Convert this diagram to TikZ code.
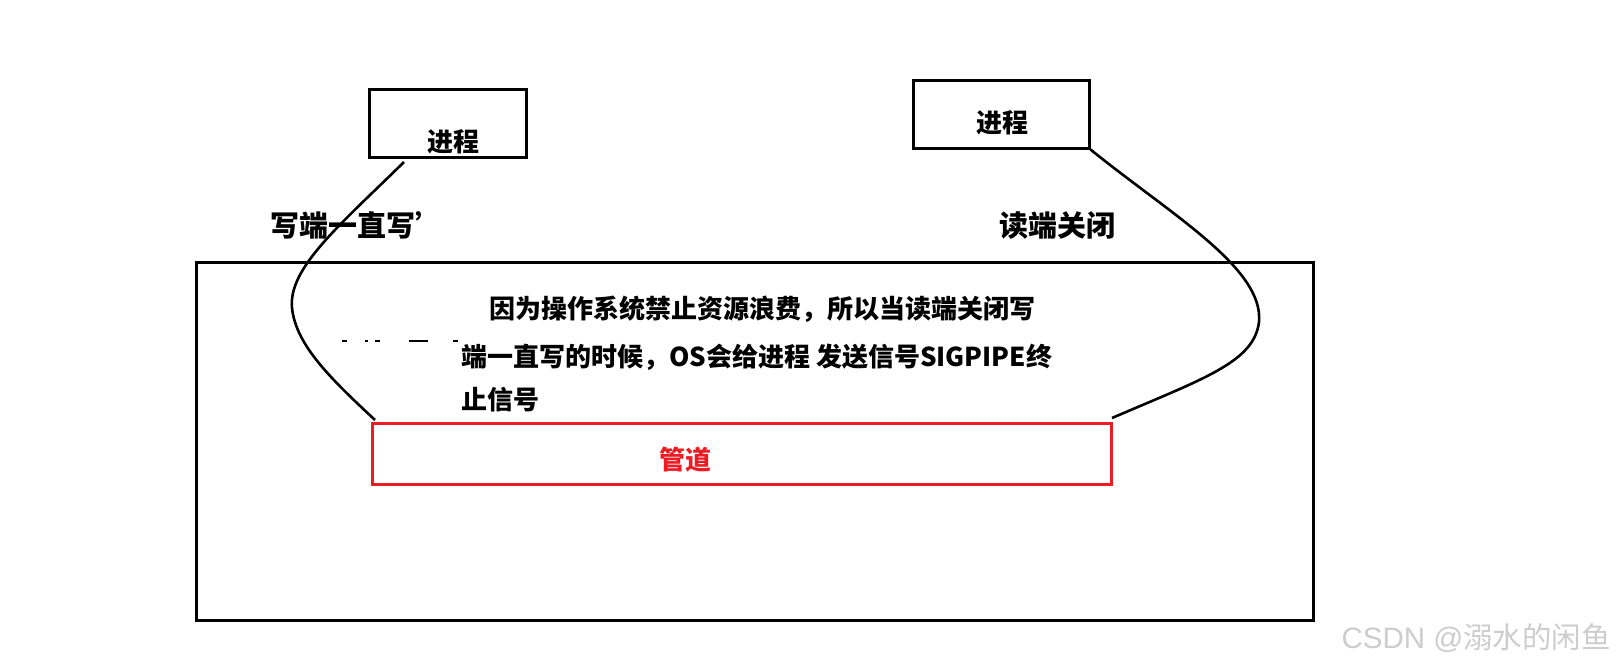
\documentclass[tikz,border=0pt]{standalone}
\usepackage{fontspec}
\newfontfamily\cjk{Noto Sans CJK SC}
\newfontfamily\arialish{Liberation Sans}
\tikzset{
  procbox/.style={draw=black, line width=3pt, minimum width=157pt, minimum height=68pt, inner sep=0pt},
  lbl/.style={font=\cjk\bfseries\fontsize{26}{30}\selectfont, inner sep=0pt},
  biglbl/.style={font=\cjk\bfseries\fontsize{29}{32}\selectfont, inner sep=0pt},
  curve/.style={draw=black, line width=2.6pt},
}
\begin{document}
\begin{tikzpicture}[x=1pt,y=-1pt]
\useasboundingbox (0,0) rectangle (1617,667);
\fill[white] (0,0) rectangle (1617,667);
% big rectangle
\node[draw=black, line width=3pt, minimum width=1117pt, minimum height=358pt, inner sep=0pt] (os) at (754.5,441) {};
% process boxes
\node[procbox] (p1) at (447.5,123) {};
\node[lbl, anchor=center] (p1t) at (453,142) {进程};
\node[procbox, minimum width=176pt] (p2) at (1001,114) {};
\node[lbl] (p2t) at (1002,123) {进程};
% pipe
\node[draw={rgb,255:red,237;green,28;blue,36}, line width=3pt, minimum width=739pt, minimum height=61pt, inner sep=0pt] (pipe) at (741.5,453.5) {};
\node[lbl, text={rgb,255:red,237;green,28;blue,36}] (pipet) at (685,460) {管道};
% labels
\node[biglbl, anchor=west] (w) at (270,225) {写端一直写’};
\node[biglbl, anchor=west] (r) at (999,226) {读端关闭};
% paragraph
\node[lbl, anchor=west] (t1) at (489,309) {因为操作系统禁止资源浪费，所以当读端关闭写};
\node[lbl, anchor=west] (t2) at (461,357) {端一直写的时候，OS会给进程 发送信号SIGPIPE终};
\node[lbl, anchor=west] (t3) at (461,400) {止信号};
% curves
\coordinate (ls) at (404,162);
\coordinate (le) at (375,420);
\coordinate (rs) at (p2.south east);
\coordinate (re) at (1112,418);
\draw[curve] (ls) .. controls (340,225) and (288,268) .. (292,308) .. controls (296,345) and (330,378) .. (le);
\draw[curve] (rs) .. controls (1170,214) and (1264,268) .. (1259,322) .. controls (1254,362) and (1205,378) .. (re);
% leftover fragments
\foreach \a/\b in {342/347, 365/368, 375/380, 409/428, 453/458}
  \draw[black, line width=1.6pt] (\a,341) -- (\b,341);
% watermark
\node[text={rgb,255:red,205;green,205;blue,205}, anchor=east, inner sep=0pt] (wm) at (1611,638) {\fontsize{29.5}{32}\selectfont\arialish CSDN @\cjk 溺水的闲鱼};
\end{tikzpicture}
\end{document}
